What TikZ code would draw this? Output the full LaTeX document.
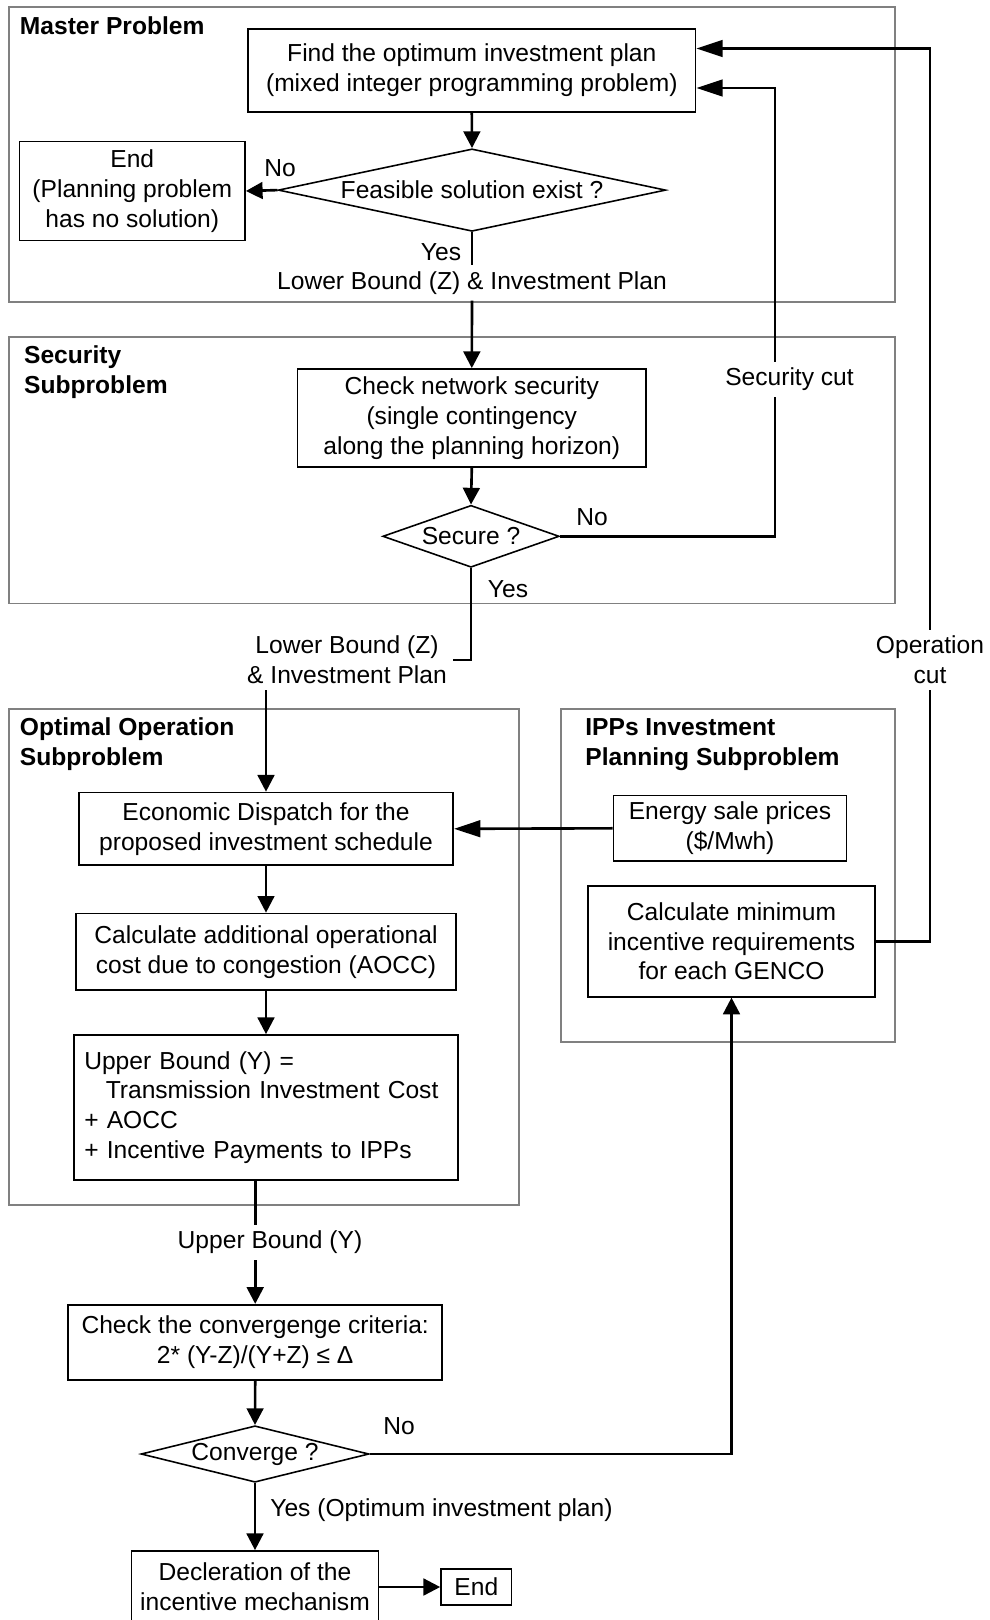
\documentclass[tikz,border=0pt]{standalone}
\usepackage{fontspec}
\setmainfont{Liberation Sans}
\usetikzlibrary{shapes.geometric,arrows.meta}

\begin{document}
\begin{tikzpicture}[x=0.02cm,y=-0.02cm,
	every node/.style={font=\fontsize{14}{17}\selectfont},
	frame/.style={draw=black!50,line width=1.1pt},
	title/.style={anchor=west,align=left,inner sep=0pt,font=\fontsize{14}{17}\selectfont\bfseries},
	box/.style={draw,line width=1pt,align=center},
	decision/.style={draw,diamond,line width=0.9pt,inner sep=0pt,align=center},
	wire/.style={line width=1.5pt},
	conn/.style={wire,-{Triangle[length=9.5pt,width=9.5pt]}},
	longconn/.style={wire,-{Triangle[length=15pt,width=9.5pt]}}]
				\clip (0,0) rectangle (990,1620);
				% Subproblem frames
				\draw[frame] (9.3,7.2) rectangle (895,301.7);
				\draw[frame] (9.3,336.9) rectangle (895,603.5);
				\draw[frame] (9.3,709) rectangle (518.8,1205);
				\draw[frame] (561,709) rectangle (895,1042);
				\node[title] at (19.6,26) {Master Problem};
				\node[title] at (23.8,372.5) {Security\\Subproblem};
				\node[title] at (19.6,744.5) {Optimal Operation\\Subproblem};
				\node[title] at (585,744.5) {IPPs Investment\\Planning Subproblem};
				% Master problem
				\node[box,minimum width=8.95cm,minimum height=1.65cm] (find) at (471.8,70.5) {Find the optimum investment plan\\(mixed integer programming problem)};
				\coordinate (inA) at ([yshift=0.44cm]find.east);
				\coordinate (inB) at ([yshift=-0.35cm]find.east);
				\node[decision,minimum width=7.75cm,minimum height=1.65cm,shape aspect=4.7] (feas) at (472,190.1) {Feasible solution exist ?};
				\node[box,minimum width=4.51cm,minimum height=1.98cm] (endA) at (132.3,191) {End\\(Planning problem\\has no solution)};
				\node at (280,168) {No};
				\node at (441,252) {Yes};
				\node (lb1) at (472,283) {Lower Bound (Z) \& Investment Plan};
				% Security subproblem
				\node[box,minimum width=6.97cm,minimum height=1.96cm] (check) at (471.8,418) {Check network security\\(single contingency\\along the planning horizon)};
				\node[decision,minimum width=3.53cm,minimum height=1.24cm,shape aspect=2.85] (secure) at (471,536.3) {Secure ?};
				\node at (592,517.5) {No};
				\node at (508,589) {Yes};
				\node (sc) at (789.5,379.5) {Security cut};
				\coordinate (scx) at (775,0);
				\node[align=center] (lb2) at (347,660) {Lower Bound (Z)\\\& Investment Plan};
				\node[align=center] (oc) at (930,660) {Operation\\cut};
				% Optimal operation subproblem
				\node[box,minimum width=7.49cm,minimum height=1.45cm] (ed) at (266,828.8) {Economic Dispatch for the\\proposed investment schedule};
				\node[box,minimum width=7.61cm,minimum height=1.53cm] (aocc) at (266,951.8) {Calculate additional operational\\cost due to congestion (AOCC)};
				\node[box,align=left,text width=7.27cm,inner sep=0.2cm,minimum height=2.9cm] (ub) at (266,1107.5) {Upper Bound (Y) =\\\hspace*{0.43cm}Transmission Investment Cost\\+ AOCC\\+ Incentive Payments to IPPs};
				% IPPs subproblem
				\node[box,minimum width=4.66cm,minimum height=1.31cm] (price) at (730,828.3) {Energy sale prices\\(\$/Mwh)};
				\node[box,minimum width=5.74cm,minimum height=2.22cm] (calc) at (731.5,941.2) {Calculate minimum\\incentive requirements\\for each GENCO};
				% Convergence check
				\node (ubl) at (270,1242.5) {Upper Bound (Y)};
				\node[box,minimum width=7.48cm,minimum height=1.51cm] (conv) at (255.2,1342.5) {Check the convergenge criteria:\\2* (Y-Z)/(Y+Z) ≤ Δ};
				\node[decision,minimum width=4.56cm,minimum height=1.13cm,shape aspect=4.05] (converge) at (255,1454) {Converge ?};
				\node at (399,1426) {No};
				\node[anchor=west,inner sep=0pt] at (270,1510.5) {Yes (Optimum investment plan)};
				\node[box,minimum width=4.94cm,minimum height=1.44cm] (decl) at (255,1587) {Decleration of the\\incentive mechanism};
				\node[box,minimum width=1.41cm,minimum height=0.71cm] (endB) at (476.3,1587) {End};
				% Connectors
				\draw[conn] (find.south) -- (feas.north);
				\draw[conn] (feas.west) -- (endA.east);
				\draw[wire] (feas.south) -- (lb1.north);
				\draw[conn] (lb1.south) -- (check.north);
				\draw[conn] (check.south) -- (secure.north);
				\draw[wire] (secure.east) -| (sc.south -| scx);
				\draw[longconn] (sc.north -| scx) |- (inB);
				\draw[wire] (calc.east) -| (oc.south);
				\draw[longconn] (oc.north) |- (inA);
				\draw[wire] (secure.south) |- (lb2.east);
				\draw[conn] (lb2.south -| ed.north) -- (ed.north);
				\draw[longconn] (price.west) -- (ed.east);
				\draw[conn] (ed.south) -- (aocc.north);
				\draw[conn] (aocc.south) -- (ub.north);
				\draw[wire] (ub.south -| conv.north) -- (ubl.north -| conv.north);
				\draw[conn] (ubl.south -| conv.north) -- (conv.north);
				\draw[conn] (conv.south) -- (converge.north);
				\draw[conn] (converge.east) -| (calc.south);
				\draw[conn] (converge.south) -- (decl.north);
				\draw[conn] (decl.east) -- (endB.west);
			\end{tikzpicture}
\end{document}
